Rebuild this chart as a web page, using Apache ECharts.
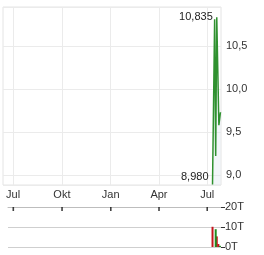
<!DOCTYPE html>
<html>
<head>
<meta charset="utf-8">
<script src="https://cdn.jsdelivr.net/npm/echarts@6/dist/echarts.min.js"></script>
<style>html,body{margin:0;padding:0;background:#fff}#c{width:264px;height:255px}</style>
</head>
<body>
<div id="c"></div>
<script>
// ---- data ----
const priceDates  = ['2024-07-11','2024-07-15','2024-07-17','2024-07-19','2024-07-23','2024-07-26'];
const priceValues = [8.89, 10.81, 9.22, 10.835, 9.58, 9.73];

const volDownDates  = ['2024-07-11','2024-07-19','2024-07-22'];
const volDownValues = [10100, 5300, 1500];
const volUpDates    = ['2024-07-17','2024-07-25'];
const volUpValues   = [8900, 600];

const extremeDates  = ['2024-07-19','2024-07-11'];
const extremeValues = [10.835, 8.98];

const tickDates  = ['2023-07-01','2023-10-01','2024-01-01','2024-04-01','2024-07-01'];
const tickLabels = ['Jul','Okt','Jan','Apr','Jul'];
const volAxisMax = 20000;

// ---- axis categories (days) ----
function dayRange(a, b) {
  const out = [];
  let t = Date.UTC(+a.slice(0,4), +a.slice(5,7)-1, +a.slice(8,10));
  const end = Date.UTC(+b.slice(0,4), +b.slice(5,7)-1, +b.slice(8,10));
  while (t <= end) { out.push(new Date(t).toISOString().slice(0,10)); t += 86400000; }
  return out;
}
const mainDays = dayRange('2023-06-12','2024-07-27');
const volDays  = dayRange('2023-06-21','2024-07-27');

const isTickMain = i => tickDates.indexOf(mainDays[i]) >= 0;
const tickLabel = v => { const k = tickDates.indexOf(v); return k >= 0 ? tickLabels[k] : ''; };
const pairs = (d, v) => d.map((x, i) => [x, v[i]]);

const font = 'Liberation Sans, Arial, sans-serif';
const txt = '#333';

const chart = echarts.init(document.getElementById('c'), null, {renderer: 'canvas'});
chart.setOption({
  animation: false,
  grid: [
    {left: 3, right: 43, top: 7, bottom: 70, show: true, borderColor: '#e4e4e4', borderWidth: 1, containLabel: false, outerBoundsMode: 'none'},
    {left: 8, right: 43, top: 207, bottom: 8, containLabel: false, outerBoundsMode: 'none'}
  ],
  xAxis: [
    {
      gridIndex: 0, type: 'category', data: mainDays, boundaryGap: false,
      axisLine: {show: false, onZero: false}, axisTick: {show: false},
      axisLabel: {interval: isTickMain, formatter: tickLabel, color: txt, fontSize: 11, fontFamily: font, margin: 4},
      splitLine: {show: true, interval: isTickMain, lineStyle: {color: '#ebebeb', width: 1}}
    },
    {
      gridIndex: 1, type: 'category', data: volDays, boundaryGap: false, position: 'top',
      axisLine: {show: true, onZero: false, lineStyle: {color: '#bdbdbd', width: 1}},
      axisTick: {show: false},
      axisLabel: {show: false},
      splitLine: {show: false}
    }
  ],
  yAxis: [
    {
      gridIndex: 0, type: 'value', position: 'right', min: 8.884, max: 10.953,
      minInterval: 0.5, maxInterval: 0.5, scale: true,
      axisLine: {show: false}, axisTick: {show: false},
      axisLabel: {color: txt, fontSize: 11, fontFamily: font, margin: 5, showMinLabel: false, showMaxLabel: false,
        formatter: v => v.toFixed(1).replace('.', ',')},
      splitLine: {show: true, lineStyle: {color: '#ebebeb', width: 1}}
    },
    {
      gridIndex: 1, type: 'value', position: 'right', min: 0, max: volAxisMax, interval: 10000,
      axisLine: {show: false},
      axisTick: {show: true, length: 4, lineStyle: {color: '#333'}},
      axisLabel: {color: txt, fontSize: 11, fontFamily: font, margin: 4, formatter: v => (v / 1000) + 'T'},
      splitLine: {show: true, lineStyle: {color: '#cfcfcf', width: 1}}
    }
  ],
  series: [
    {
      type: 'line', xAxisIndex: 0, yAxisIndex: 0, data: pairs(priceDates, priceValues),
      showSymbol: false, symbol: 'none',
      lineStyle: {color: '#2f912f', width: 1.5},
      areaStyle: {color: 'rgba(215,228,236,0.45)', origin: 'start'},
      markPoint: {
        symbol: 'circle', symbolSize: 0,
        label: {show: true, position: 'left', distance: 4, color: '#222', fontSize: 11, fontFamily: font,
          formatter: p => p.value.toFixed(3).replace('.', ',')},
        data: extremeDates.map((d, i) => ({coord: [d, extremeValues[i]], value: extremeValues[i]}))
      }
    },
    {
      type: 'bar', xAxisIndex: 1, yAxisIndex: 1, data: pairs(volDownDates, volDownValues),
      barWidth: 2, barGap: '-100%', itemStyle: {color: '#c4161c'}
    },
    {
      type: 'bar', xAxisIndex: 1, yAxisIndex: 1, data: pairs(volUpDates, volUpValues),
      barWidth: 2, barGap: '-100%', itemStyle: {color: '#1f8c1f'}
    },
    {
      // quarter tick marks hanging under the volume panel's top axis line
      type: 'scatter', xAxisIndex: 1, yAxisIndex: 1, silent: true, z: 10, clip: false,
      data: tickDates.map(d => [d, volAxisMax]),
      symbol: 'rect', symbolSize: [1.6, 4], symbolOffset: [0, 2],
      itemStyle: {color: '#111'}
    }
  ]
});
</script>
</body>
</html>
